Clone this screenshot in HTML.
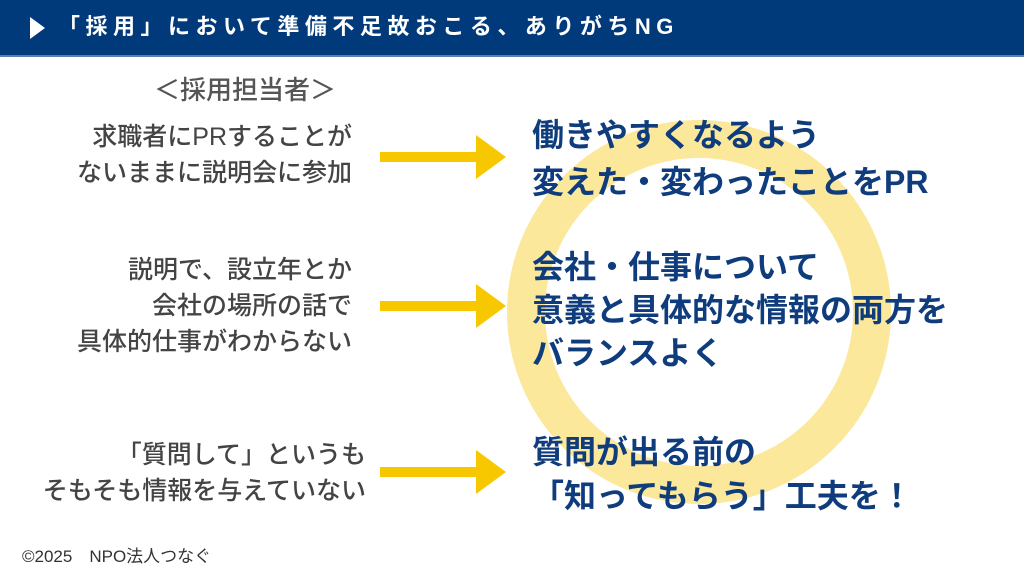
<!DOCTYPE html>
<html><head><meta charset="utf-8"><style>
body{margin:0;width:1024px;height:576px;background:#fff;position:relative;overflow:hidden;font-family:"Liberation Sans","Noto Sans CJK JP",sans-serif}
.hd{position:absolute;left:0;top:0;width:1024px;height:55px;background:#003a7a;border-bottom:2px solid #5b7fb0}
.hd .t{position:absolute;left:58px;top:12px;color:#fff;font-size:22px;font-weight:bold;letter-spacing:5.5px;line-height:30px}
.tri{position:absolute;left:30px;top:17px;width:0;height:0;border-left:15px solid #fff;border-top:11px solid transparent;border-bottom:11px solid transparent}
.l{position:absolute;right:672px;text-align:right;color:#444;font-size:25px;line-height:36px;font-weight:500;white-space:nowrap}
.r{position:absolute;left:532px;color:#0f3c7c;font-size:32px;line-height:45px;font-weight:bold;white-space:nowrap}
.a{position:absolute;left:380px;width:130px;height:44px}
</style></head><body>
<div class="hd"><div class="tri"></div><div class="t">「採用」において準備不足故おこる、ありがちNG</div></div>
<svg style="position:absolute;left:0;top:0" width="1024" height="576"><circle cx="699" cy="312" r="173" fill="none" stroke="#fbe89b" stroke-width="38"/></svg>
<div class="l" style="top:72px;right:688px;font-size:26px;color:#555">＜採用担当者＞</div>
<div class="l" style="top:119px">求職者にPRすることが<br>ないままに説明会に参加</div>
<div class="l" style="top:252px">説明で、設立年とか<br>会社の場所の話で<br>具体的仕事がわからない</div>
<div class="l" style="top:437px;right:658px">「質問して」というも<br>そもそも情報を与えていない</div>
<svg class="a" style="top:135px" viewBox="0 0 130 44"><path d="M0 17H96V0L126 22L96 44V27H0Z" fill="#f7c800"/></svg>
<svg class="a" style="top:284px" viewBox="0 0 130 44"><path d="M0 17H96V0L126 22L96 44V27H0Z" fill="#f7c800"/></svg>
<svg class="a" style="top:450px" viewBox="0 0 130 44"><path d="M0 17H96V0L126 22L96 44V27H0Z" fill="#f7c800"/></svg>
<div class="r" style="top:112px;line-height:47px">働きやすくなるよう<br>変えた・変わったことをPR</div>
<div class="r" style="top:246px;line-height:43px">会社・仕事について<br>意義と具体的な情報の両方を<br>バランスよく</div>
<div class="r" style="top:430px;line-height:44px">質問が出る前の<br>「知ってもらう」工夫を！</div>
<div style="position:absolute;left:22px;top:542px;font-size:17px;color:#333">©2025　NPO法人つなぐ</div>
</body></html>
